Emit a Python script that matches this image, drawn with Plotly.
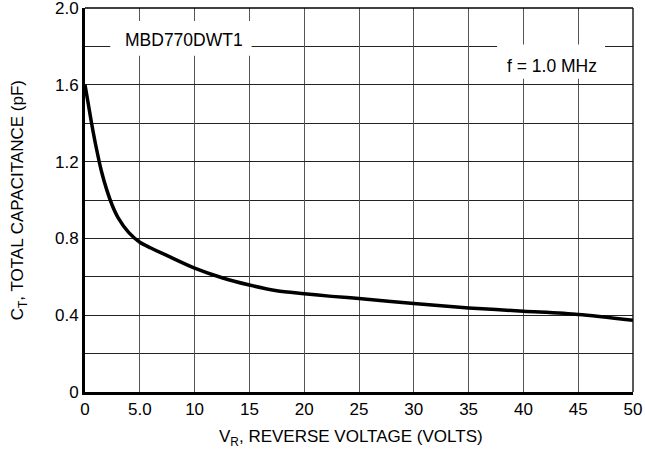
import plotly.graph_objects as go

# Data
vr = [0, 0.3, 0.6, 1.0, 1.5, 2.0, 2.5, 3.0, 4.0, 5.0, 6.0, 7.5, 10, 12.5, 15,
      17.5, 20, 22.5, 25, 30, 35, 40, 45, 50]
ct = [1.60, 1.50, 1.40, 1.28, 1.15, 1.05, 0.97, 0.91, 0.83, 0.78, 0.75, 0.71,
      0.645, 0.595, 0.557, 0.527, 0.512, 0.498, 0.487, 0.461, 0.438, 0.421,
      0.404, 0.374]

x_ticks = [0, 5, 10, 15, 20, 25, 30, 35, 40, 45, 50]
x_labels = ["0", "5.0", "10", "15", "20", "25", "30", "35", "40", "45", "50"]
y_ticks = [0, 0.4, 0.8, 1.2, 1.6, 2.0]
y_labels = ["0", "0.4", "0.8", "1.2", "1.6", "2.0"]

FONT = "Liberation Sans, Arial, sans-serif"

fig = go.Figure()
fig.add_trace(go.Scatter(x=vr, y=ct, mode="lines",
                         line=dict(color="black", width=3.5, shape="spline", smoothing=0.8),
                         hoverinfo="skip", showlegend=False))

# white boxes behind the labels (hide gridlines)
fig.add_shape(type="rect", xref="x", yref="y", x0=2.3, x1=15.2, y0=1.751, y1=1.932,
              fillcolor="white", line=dict(width=0), layer="above")
fig.add_shape(type="rect", xref="x", yref="y", x0=37.6, x1=47.45, y0=1.631, y1=1.81,
              fillcolor="white", line=dict(width=0), layer="above")

# top and right thin border
fig.add_shape(type="line", xref="x domain", yref="y domain", x0=0, x1=1, y0=1, y1=1,
              line=dict(color="black", width=1.3))
fig.add_shape(type="line", xref="x domain", yref="y domain", x0=1, x1=1, y0=0, y1=1,
              line=dict(color="black", width=1.3))

fig.add_annotation(x=9.03, y=1.834, xref="x", yref="y", text="MBD770DWT1",
                   showarrow=False, font=dict(family=FONT, size=17.5, color="black"))
fig.add_annotation(x=42.6, y=1.70, xref="x", yref="y", text="f = 1.0 MHz",
                   showarrow=False, font=dict(family=FONT, size=17.5, color="black"))

fig.add_annotation(x=-0.12, y=0.5, xref="paper", yref="paper", textangle=-90,
                   text="C<sub>T</sub>, TOTAL CAPACITANCE (pF)", showarrow=False,
                   xanchor="center", yanchor="middle",
                   font=dict(family=FONT, size=17, color="black"))
fig.add_annotation(x=0.485, y=-0.121, xref="paper", yref="paper",
                   text="V<sub>R</sub>, REVERSE VOLTAGE (VOLTS)", showarrow=False,
                   xanchor="center", yanchor="middle",
                   font=dict(family=FONT, size=17, color="black"))

fig.update_layout(
    width=645, height=459,
    margin=dict(l=85, r=12, t=8, b=67),
    paper_bgcolor="white", plot_bgcolor="white",
    font=dict(family=FONT, size=17, color="black"),
    xaxis=dict(range=[0, 50], tickvals=x_ticks, ticktext=x_labels,
               showgrid=True, gridcolor="#555555", gridwidth=1.2,
               showline=True, linecolor="black", linewidth=3,
               zeroline=False, ticks="", tickfont=dict(size=17),
               automargin=False, ticklabeloverflow="allow"),
    yaxis=dict(range=[0, 2.0], tickvals=y_ticks, ticktext=y_labels,
               showgrid=True, gridcolor="#222222", gridwidth=1.2,
               minor=dict(tickmode="linear", tick0=0, dtick=0.2, showgrid=True,
                          gridcolor="#222222", gridwidth=1.2),
               showline=True, linecolor="black", linewidth=3,
               zeroline=False, ticks="", tickfont=dict(size=17),
               automargin=False, ticklabeloverflow="allow"),
)

fig.write_html("out.html", config={"displayModeBar": False},
               post_script="document.body.style.margin='0px';document.body.style.padding='0px';")
